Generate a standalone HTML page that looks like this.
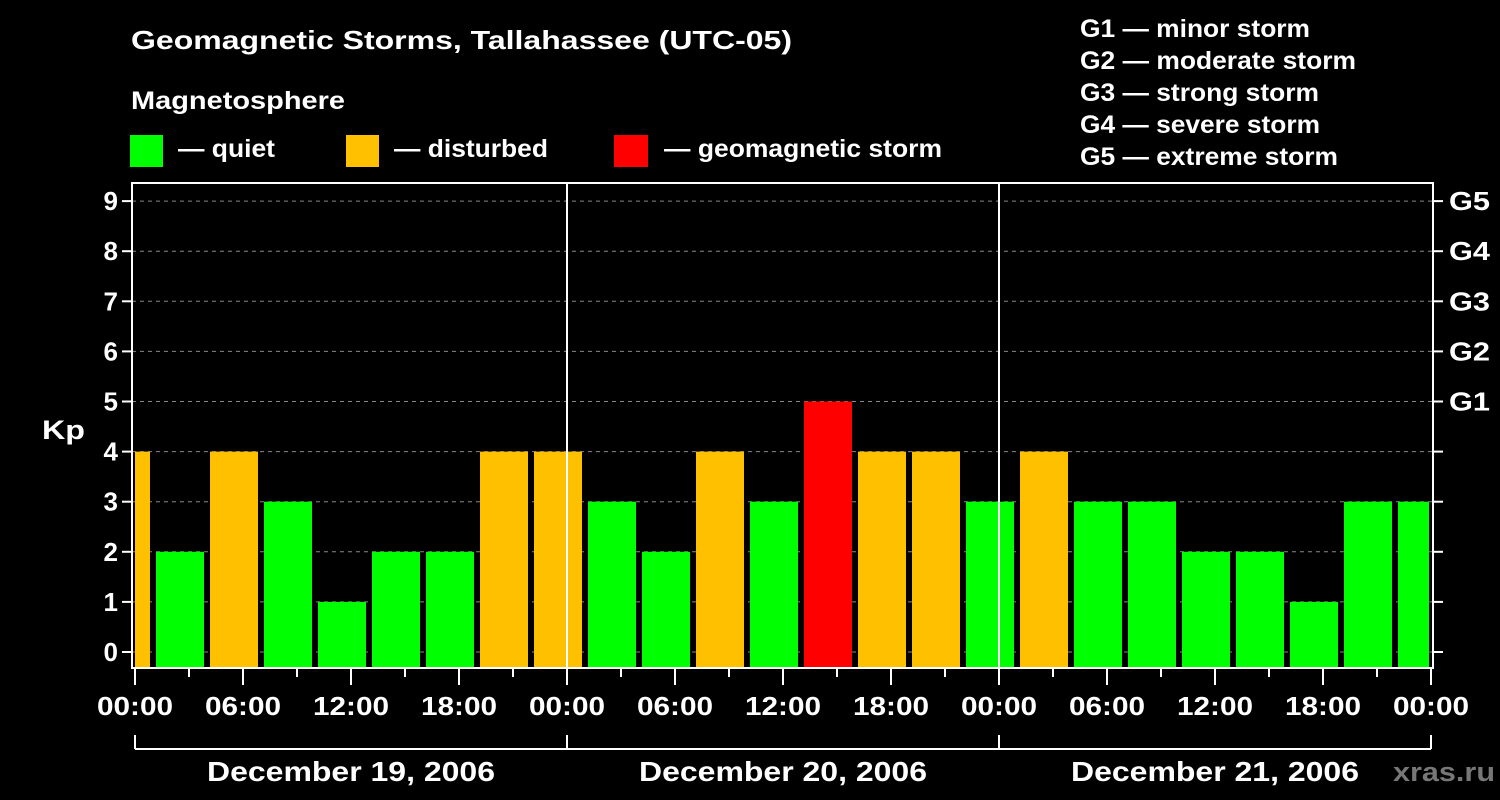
<!DOCTYPE html>
<html><head><meta charset="utf-8"><style>
html,body{margin:0;padding:0;background:#000;width:1500px;height:800px;overflow:hidden}
svg text{font-family:"Liberation Sans",Arial,sans-serif;font-weight:bold;fill:#fff}
</style></head><body>
<svg id="chart" width="1500" height="800" xmlns="http://www.w3.org/2000/svg">
<text x="131" y="49" font-size="26" textLength="661" lengthAdjust="spacingAndGlyphs">Geomagnetic Storms, Tallahassee (UTC-05)</text>
<text x="131" y="109" font-size="25" textLength="214" lengthAdjust="spacingAndGlyphs">Magnetosphere</text>
<rect x="130" y="135" width="33" height="32" fill="#00ff00"/>
<text x="178" y="157" font-size="25" textLength="97" lengthAdjust="spacingAndGlyphs">— quiet</text>
<rect x="346" y="135" width="33" height="32" fill="#ffc000"/>
<text x="394" y="157" font-size="25" textLength="154" lengthAdjust="spacingAndGlyphs">— disturbed</text>
<rect x="614" y="135" width="34" height="32" fill="#ff0000"/>
<text x="664" y="157" font-size="25" textLength="278" lengthAdjust="spacingAndGlyphs">— geomagnetic storm</text>
<g font-size="25">
<text x="1080" y="37" textLength="230" lengthAdjust="spacingAndGlyphs">G1 — minor storm</text>
<text x="1080" y="69" textLength="276" lengthAdjust="spacingAndGlyphs">G2 — moderate storm</text>
<text x="1080" y="101" textLength="239" lengthAdjust="spacingAndGlyphs">G3 — strong storm</text>
<text x="1080" y="133" textLength="240" lengthAdjust="spacingAndGlyphs">G4 — severe storm</text>
<text x="1080" y="165" textLength="258" lengthAdjust="spacingAndGlyphs">G5 — extreme storm</text>
</g>
<text x="42" y="439" font-size="27" textLength="43" lengthAdjust="spacingAndGlyphs">Kp</text>
<text x="1393" y="781" font-size="27" textLength="102" lengthAdjust="spacingAndGlyphs" style="fill:#777">xras.ru</text>
<g id="plot"></g>
</svg>
<script>
const kpValues=[4,2,4,3,1,2,2,4,4,3,2,4,3,5,4,4,3,4,3,3,2,2,1,3,3];
const yTicks=[0,1,2,3,4,5,6,7,8,9];
const gLabels=["G1","G2","G3","G4","G5"];
const xTickLabels=["00:00","06:00","12:00","18:00","00:00","06:00","12:00","18:00","00:00","06:00","12:00","18:00","00:00"];
const dayLabels=["December 19, 2006","December 20, 2006","December 21, 2006"];
const NS="http://www.w3.org/2000/svg";
const g=document.getElementById('plot');
const X0=135,PXH=18,L=132,R=1433,T=183,B=668;
const xs=h=>X0+h*PXH;
const ys=v=>652-50.1*v;
function mk(tag,attrs){const e=document.createElementNS(NS,tag);for(const k in attrs)e.setAttribute(k,attrs[k]);g.appendChild(e);return e;}
const defs=mk('defs',{});
const cp=document.createElementNS(NS,'clipPath');cp.setAttribute('id','clip');
const cr=document.createElementNS(NS,'rect');cr.setAttribute('x',xs(0));cr.setAttribute('y',T);cr.setAttribute('width',xs(72)-xs(0)-2);cr.setAttribute('height',B-T);
cp.appendChild(cr);defs.appendChild(cp);
yTicks.forEach(v=>{
 const l=mk('line',{x1:L,x2:R,y1:ys(v),y2:ys(v),stroke:'#888','stroke-dasharray':'4,4','stroke-width':1});
 
 
});
const bg=document.createElementNS(NS,'g');bg.setAttribute('clip-path','url(#clip)');g.appendChild(bg);
kpValues.forEach((v,i)=>{
 const c=-0.5+3*i;
 const col=v>=5?'#ff0000':(v>=4?'#ffc000':'#00ff00');
 const r=document.createElementNS(NS,'rect');
 r.setAttribute('x',xs(c)-24);r.setAttribute('width',48);
 r.setAttribute('y',ys(v));r.setAttribute('height',B-ys(v));
 r.setAttribute('fill',col);
 
 
 bg.appendChild(r);
});
[24,48].forEach(h=>{
 const l=mk('line',{x1:xs(h),x2:xs(h),y1:T,y2:B,stroke:'#fff','stroke-width':2});
 
 
});
const fr=mk('rect',{x:L,y:T,width:R-L,height:B-T,fill:'none',stroke:'#fff','stroke-width':2});


yTicks.forEach(v=>{
 mk('line',{x1:L-10,x2:L,y1:ys(v),y2:ys(v),stroke:'#fff','stroke-width':2});
 mk('line',{x1:R,x2:R+10,y1:ys(v),y2:ys(v),stroke:'#fff','stroke-width':2});
 const t=mk('text',{x:L-14,y:ys(v)+9,'font-size':26,'text-anchor':'end'});t.textContent=v;
 
 
});
gLabels.forEach((s,i)=>{
 const t=mk('text',{x:1449,y:ys(5+i)+9,'font-size':26,textLength:41,lengthAdjust:'spacingAndGlyphs'});t.textContent=s;
 
 
});
for(let h=0;h<=72;h+=3){
 const major=h%6===0;
 mk('line',{x1:xs(h),x2:xs(h),y1:B,y2:B+(major?17:9),stroke:'#fff','stroke-width':2});
}
xTickLabels.forEach((s,i)=>{
 const t=mk('text',{x:xs(6*i)-38,y:715,'font-size':26,textLength:76,lengthAdjust:'spacingAndGlyphs'});t.textContent=s;
 
 
});
mk('line',{x1:xs(0),x2:xs(72),y1:749,y2:749,stroke:'#fff','stroke-width':2});
[0,24,48,72].forEach(h=>mk('line',{x1:xs(h),x2:xs(h),y1:735,y2:749,stroke:'#fff','stroke-width':2}));
dayLabels.forEach((s,i)=>{
 const t=mk('text',{x:xs(24*i+12)-144,y:781,'font-size':28,textLength:288,lengthAdjust:'spacingAndGlyphs'});t.textContent=s;
 
 
});
</script>
</body></html>
